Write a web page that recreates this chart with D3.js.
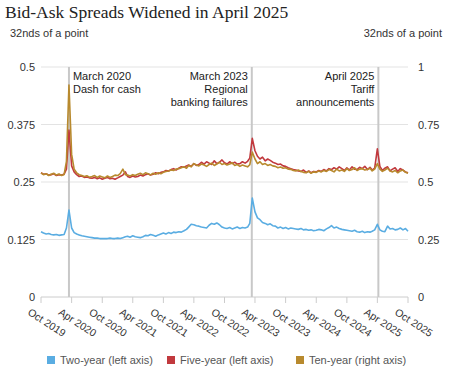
<!DOCTYPE html>
<html lang="en">
<meta charset="utf-8">
<style>
body { margin: 0; background: #fff; }
text { font-family: "Liberation Sans", Arial, sans-serif; }
.title { font-family: "Liberation Serif", Georgia, serif; }
</style>
<body>
<script src="https://d3js.org/d3.v7.min.js"></script>
<script>
// semi-monthly readings (1st and 16th), Oct 2019 .. Oct 2025
var twoYear = [
  0.142,0.139, 0.137,0.138, 0.136,0.135, 0.136,0.134, 0.135,0.136, 0.150,0.189, 0.150,0.140, 0.137,0.135, 0.133,0.132, 0.131,0.130, 0.129,0.128, 0.128,0.127,
  0.127,0.127, 0.127,0.128, 0.127,0.127, 0.128,0.127, 0.129,0.131, 0.132,0.130, 0.133,0.131, 0.130,0.129, 0.131,0.134, 0.133,0.136, 0.134,0.132, 0.135,0.137,
  0.139,0.137, 0.140,0.138, 0.141,0.140, 0.142,0.141, 0.144,0.147, 0.152,0.158, 0.157,0.155, 0.154,0.152, 0.151,0.150, 0.156,0.160, 0.158,0.161, 0.157,0.152,
  0.150,0.149, 0.151,0.148, 0.150,0.152, 0.149,0.151, 0.150,0.152, 0.160,0.215, 0.185,0.172, 0.168,0.162, 0.160,0.157, 0.159,0.155, 0.154,0.150, 0.152,0.149,
  0.151,0.148, 0.150,0.149, 0.148,0.147, 0.149,0.146, 0.147,0.145, 0.146,0.144, 0.145,0.147, 0.146,0.144, 0.148,0.151, 0.155,0.150, 0.152,0.149, 0.147,0.146,
  0.145,0.144, 0.143,0.145, 0.142,0.141, 0.143,0.140, 0.142,0.141, 0.143,0.146, 0.158,0.146, 0.143,0.142, 0.154,0.148, 0.149,0.146, 0.147,0.150, 0.146,0.149,
  0.143
];
var fiveYear = [
  0.270,0.267, 0.268,0.265, 0.266,0.268, 0.264,0.266, 0.265,0.267, 0.278,0.363, 0.285,0.272, 0.266,0.262, 0.263,0.260, 0.261,0.259, 0.258,0.260, 0.257,0.259,
  0.256,0.258, 0.260,0.257, 0.258,0.256, 0.259,0.262, 0.265,0.272, 0.262,0.260, 0.263,0.261, 0.262,0.265, 0.263,0.266, 0.268,0.265, 0.267,0.270, 0.268,0.271,
  0.272,0.275, 0.274,0.277, 0.279,0.276, 0.280,0.283, 0.282,0.285, 0.287,0.284, 0.290,0.286, 0.288,0.293, 0.289,0.294, 0.291,0.288, 0.296,0.290, 0.293,0.298,
  0.292,0.289, 0.294,0.290, 0.293,0.289, 0.290,0.294, 0.291,0.295, 0.302,0.345, 0.318,0.306, 0.300,0.304, 0.296,0.300, 0.297,0.293, 0.291,0.288, 0.289,0.285,
  0.284,0.281, 0.279,0.277, 0.276,0.274, 0.273,0.276, 0.271,0.274, 0.270,0.273, 0.272,0.275, 0.273,0.277, 0.274,0.279, 0.277,0.281, 0.278,0.283, 0.279,0.275,
  0.281,0.276, 0.283,0.278, 0.277,0.282, 0.279,0.284, 0.277,0.282, 0.276,0.280, 0.322,0.284, 0.275,0.280, 0.283,0.274, 0.278,0.281, 0.273,0.279, 0.276,0.272,
  0.270
];
var tenYear = [
  0.540,0.532, 0.536,0.528, 0.534,0.538, 0.530,0.535, 0.528,0.533, 0.590,0.922, 0.620,0.556, 0.540,0.532, 0.528,0.524, 0.527,0.521, 0.524,0.528, 0.520,0.526,
  0.522,0.518, 0.526,0.520, 0.524,0.530, 0.528,0.536, 0.556,0.532, 0.530,0.526, 0.532,0.528, 0.534,0.538, 0.532,0.540, 0.536,0.531, 0.538,0.534, 0.540,0.536,
  0.542,0.546, 0.548,0.552, 0.550,0.556, 0.558,0.562, 0.566,0.560, 0.572,0.566, 0.580,0.574, 0.570,0.578, 0.574,0.568, 0.576,0.582, 0.572,0.578, 0.586,0.576,
  0.580,0.574, 0.578,0.584, 0.572,0.576, 0.568,0.574, 0.570,0.566, 0.575,0.630, 0.600,0.580, 0.588,0.576, 0.580,0.572, 0.576,0.570, 0.568,0.562, 0.565,0.560,
  0.562,0.556, 0.555,0.550, 0.548,0.552, 0.546,0.542, 0.540,0.546, 0.538,0.544, 0.542,0.548, 0.544,0.550, 0.546,0.554, 0.550,0.544, 0.556,0.548, 0.552,0.546,
  0.558,0.550, 0.554,0.562, 0.550,0.556, 0.558,0.552, 0.554,0.560, 0.548,0.556, 0.580,0.556, 0.546,0.552, 0.560,0.548, 0.544,0.550, 0.540,0.548, 0.552,0.542,
  0.538
];

var xTickLabels = ["Oct 2019","Apr 2020","Oct 2020","Apr 2021","Oct 2021","Apr 2022","Oct 2022",
                   "Apr 2023","Oct 2023","Apr 2024","Oct 2024","Apr 2025","Oct 2025"];
var leftTicks = [0, 0.125, 0.25, 0.375, 0.5];
var rightTicks = [0, 0.25, 0.5, 0.75, 1];

var events = [
  { date: "2020-03-16", lines: ["March 2020", "Dash for cash"], side: "right" },
  { date: "2023-03-13", lines: ["March 2023", "Regional", "banking failures"], side: "left" },
  { date: "2025-04-07", lines: ["April 2025", "Tariff", "announcements"], side: "left" }
];

var seriesNames = ["Two-year (left axis)", "Five-year (left axis)", "Ten-year (right axis)"];
var colors = ["#5aade2", "#c1393e", "#b88a2e"];

var w = 449, h = 370;
var parseTick = d3.timeParse("%b %Y");
var parseDay = d3.timeParse("%Y-%m-%d");

function dateAt(i) {
  return new Date(2019, 9 + Math.floor(i / 2), i % 2 ? 16 : 1);
}

var x = d3.scaleTime()
  .domain([new Date(2019, 9, 1), new Date(2025, 9, 1)])
  .range([41, 408]);
var yL = d3.scaleLinear().domain([0, 0.5]).range([297, 67]);
var yR = d3.scaleLinear().domain([0, 1]).range([297, 67]);

var svg = d3.select("body").append("svg")
  .attr("width", w)
  .attr("height", h);

// title + unit labels
svg.append("text").attr("class", "title")
  .attr("x", 5).attr("y", 18)
  .style("font-size", "17.5px").style("fill", "#222")
  .text("Bid-Ask Spreads Widened in April 2025");
svg.append("text").attr("x", 10).attr("y", 37)
  .style("font-size", "11px").style("fill", "#333")
  .text("32nds of a point");
svg.append("text").attr("x", 442).attr("y", 37)
  .attr("text-anchor", "end")
  .style("font-size", "11px").style("fill", "#333")
  .text("32nds of a point");

// gridlines
svg.append("g").selectAll("line")
  .data(leftTicks)
  .enter().append("line")
  .attr("x1", 41).attr("x2", 408)
  .attr("y1", function(d) { return yL(d); })
  .attr("y2", function(d) { return yL(d); })
  .style("stroke", function(d) { return d === 0 ? "#ccc" : "#e3e3e3"; })
  .style("stroke-width", 1);

// y labels
svg.append("g").selectAll("text")
  .data(leftTicks)
  .enter().append("text")
  .attr("x", 35).attr("y", function(d) { return yL(d) + 4; })
  .attr("text-anchor", "end")
  .style("font-size", "11px").style("fill", "#333")
  .text(function(d) { return d; });
svg.append("g").selectAll("text")
  .data(rightTicks)
  .enter().append("text")
  .attr("x", 418).attr("y", function(d) { return yR(d) + 4; })
  .style("font-size", "11px").style("fill", "#333")
  .text(function(d) { return d; });

// x ticks + rotated labels
var xg = svg.append("g");
xg.selectAll("line")
  .data(xTickLabels)
  .enter().append("line")
  .attr("x1", function(d) { return x(parseTick(d)); })
  .attr("x2", function(d) { return x(parseTick(d)); })
  .attr("y1", 297).attr("y2", 303)
  .style("stroke", "#ccc");
xg.selectAll("text")
  .data(xTickLabels)
  .enter().append("text")
  .attr("transform", function(d) {
    return "translate(" + (x(parseTick(d)) - 14) + ",314) rotate(33)";
  })
  .style("font-size", "10.5px").style("fill", "#333")
  .text(function(d) { return d; });

// event lines
svg.append("g").selectAll("line")
  .data(events)
  .enter().append("line")
  .attr("x1", function(d) { return x(parseDay(d.date)); })
  .attr("x2", function(d) { return x(parseDay(d.date)); })
  .attr("y1", 67).attr("y2", 297)
  .style("stroke", "#c8c8c8")
  .style("stroke-width", 2);

var ev = svg.append("g").selectAll("text")
  .data(events)
  .enter().append("text")
  .attr("text-anchor", function(d) { return d.side === "right" ? "start" : "end"; })
  .style("font-size", "11px").style("fill", "#222");
ev.selectAll("tspan")
  .data(function(d) {
    var px = x(parseDay(d.date)) + (d.side === "right" ? 4 : -4);
    return d.lines.map(function(t) { return { t: t, px: px }; });
  })
  .enter().append("tspan")
  .attr("x", function(d) { return d.px; })
  .attr("y", function(d, i) { return 80 + i * 13; })
  .text(function(d) { return d.t; });

// lines
var lineL = d3.line()
  .x(function(d, i) { return x(dateAt(i)); })
  .y(function(d) { return yL(d); });
var lineR = d3.line()
  .x(function(d, i) { return x(dateAt(i)); })
  .y(function(d) { return yR(d); });

svg.append("path").datum(twoYear)
  .attr("d", lineL)
  .style("fill", "none").style("stroke", colors[0]).style("stroke-width", 1.6)
  .style("stroke-linejoin", "round");
svg.append("path").datum(fiveYear)
  .attr("d", lineL)
  .style("fill", "none").style("stroke", colors[1]).style("stroke-width", 1.6)
  .style("stroke-linejoin", "round");
svg.append("path").datum(tenYear)
  .attr("d", lineR)
  .style("fill", "none").style("stroke", colors[2]).style("stroke-width", 1.6)
  .style("stroke-linejoin", "round");

// legend
var legendX = [47, 167, 296];
var lg = svg.append("g").selectAll("g")
  .data(seriesNames)
  .enter().append("g")
  .attr("transform", function(d, i) { return "translate(" + legendX[i] + ",356)"; });
lg.append("rect")
  .attr("width", 8).attr("height", 8)
  .style("fill", function(d, i) { return colors[i]; });
lg.append("text")
  .attr("x", 13).attr("y", 8)
  .style("font-size", "11px").style("fill", "#555")
  .text(function(d) { return d; });
</script>
</body>
</html>
